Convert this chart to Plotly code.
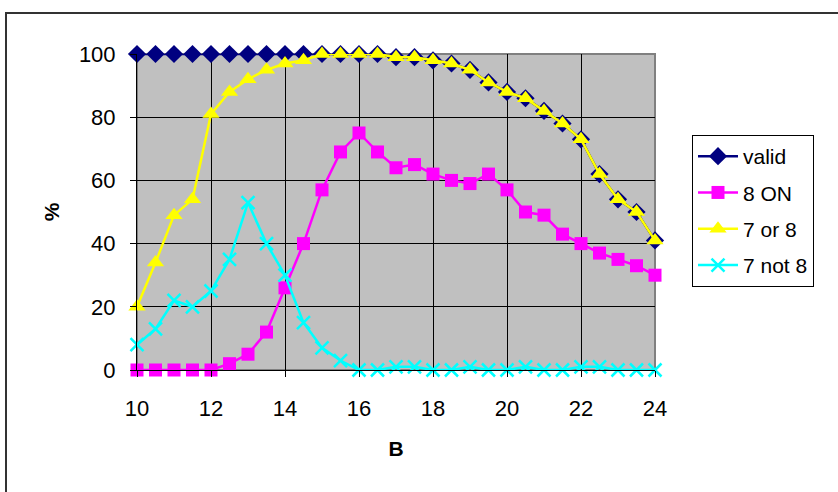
import plotly.graph_objects as go

# B values from 10 to 24 in steps of 0.5
b_values = [10, 10.5, 11, 11.5, 12, 12.5, 13, 13.5, 14, 14.5, 15, 15.5, 16, 16.5,
            17, 17.5, 18, 18.5, 19, 19.5, 20, 20.5, 21, 21.5, 22, 22.5, 23, 23.5, 24]

valid = [100, 100, 100, 100, 100, 100, 100, 100, 100, 100, 100, 100, 100, 100,
         99, 99, 98, 97, 95, 91, 88, 86, 82, 78, 73, 62, 54, 50, 41]
eight_on = [0, 0, 0, 0, 0, 2, 5, 12, 26, 40, 57, 69, 75, 69,
            64, 65, 62, 60, 59, 62, 57, 50, 49, 43, 40, 37, 35, 33, 30]
seven_or_eight = [20, 34, 49, 54, 81, 88, 92, 95, 97, 98, 100, 100, 100, 100,
                  99, 99, 98, 97, 95, 91, 88, 86, 82, 78, 73, 62, 54, 50, 41]
seven_not_eight = [8, 13, 22, 20, 25, 35, 53, 40, 30, 15, 7, 3, 0, 0,
                   1, 1, 0, 0, 1, 0, 0, 1, 0, 0, 1, 1, 0, 0, 0]

x_ticks = [10, 12, 14, 16, 18, 20, 22, 24]
y_ticks = [0, 20, 40, 60, 80, 100]

FONT = "Liberation Sans, Arial, sans-serif"

series = [
    ("valid", valid, "#000080", dict(symbol="diamond", size=14, color="#000080")),
    ("8 ON", eight_on, "#FF00FF", dict(symbol="square", size=13, color="#FF00FF")),
    ("7 or 8", seven_or_eight, "#FFFF00", dict(symbol="triangle-up", size=15, color="#FFFF00")),
    ("7 not 8", seven_not_eight, "#00FFFF",
     dict(symbol="x-thin", size=13, color="#00FFFF", line=dict(color="#00FFFF", width=2.5))),
]

fig = go.Figure()
for i, (name, ys, color, marker) in enumerate(series):
    fig.add_trace(go.Scatter(
        x=b_values, y=ys, name=name, mode="lines+markers",
        line=dict(color=color, width=2.5), marker=marker,
        cliponaxis=False, legendgroup=f"g{i}",
    ))

L, R, T, B = 137, 183, 54, 122
PW, PH = 838 - L - R, 492 - T - B

def px(xp):
    return (xp - L) / PW

def py(yp):
    return (492 - B - yp) / PH

fig.update_layout(
    width=838, height=492,
    margin=dict(l=L, r=R, t=T, b=B),
    paper_bgcolor="white",
    plot_bgcolor="#C0C0C0",
    font=dict(family=FONT, size=22, color="black"),
    showlegend=True,
    legend=dict(
        x=px(692), y=py(135), xanchor="left", yanchor="top",
        bordercolor="black", borderwidth=1, bgcolor="white",
        font=dict(family=FONT, size=21, color="black"),
        tracegroupgap=6, itemwidth=40,
    ),
    xaxis=dict(
        range=[10, 24], tickvals=x_ticks, ticktext=[str(v) for v in x_ticks],
        showgrid=True, gridcolor="black", gridwidth=1,
        showline=True, linecolor="black", linewidth=1,
        ticks="outside", ticklen=6, tickcolor="black",
        ticklabelstandoff=13,
        zeroline=False,
        title=dict(text="<b>B</b>", font=dict(family=FONT, size=21), standoff=20),
    ),
    yaxis=dict(
        range=[0, 100], tickvals=y_ticks, ticktext=[str(v) for v in y_ticks],
        showgrid=True, gridcolor="black", gridwidth=1,
        showline=True, linecolor="black", linewidth=1,
        ticks="outside", ticklen=6, tickcolor="black",
        ticklabelstandoff=10,
        zeroline=False,
        title=dict(text="<b>%</b>", font=dict(family=FONT, size=21), standoff=13),
    ),
    shapes=[
        # plot-area frame
        dict(type="rect", xref="paper", yref="paper", x0=0, y0=0, x1=1, y1=1,
             line=dict(color="#808080", width=2), layer="below"),
        # outer chart frame
        dict(type="rect", xref="paper", yref="paper",
             x0=px(6), y0=py(520), x1=px(860), y1=py(13),
             line=dict(color="#333333", width=2)),
    ],
)

fig.write_html("out.html")
